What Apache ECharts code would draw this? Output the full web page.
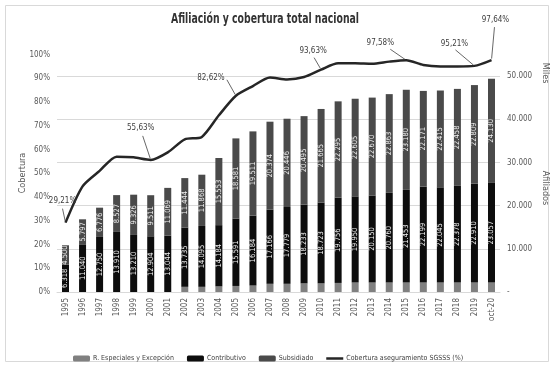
<!DOCTYPE html>
<html><head><meta charset="utf-8">
<script src="https://cdn.jsdelivr.net/npm/echarts@6/dist/echarts.min.js"></script>
<style>html,body{margin:0;padding:0;background:#fff}#c{width:553px;height:366px}</style>
</head><body><div id="c"></div>
<script>
const categories = ['1995','1996','1997','1998','1999','2000','2001','2002','2003','2004','2005','2006','2007','2008','2009','2010','2011','2012','2013','2014','2015','2016','2017','2018','2019','oct-20'];
const especiales = [0,0,0,0,0,0,0,1200,1200,1300,1400,1500,1900,1900,2000,2000,2100,2200,2200,2200,2200,2200,2200,2200,2200,2200];
const contributivo = [6318,11040,12750,13910,13210,12904,13044,13735,14095,14184,15591,16184,17166,17779,18233,18723,19756,19950,20150,20760,21453,22199,22045,22378,22910,23057];
const subsidiado = [4500,5797,6776,8527,9326,9511,11069,11444,11868,15553,18581,19511,20374,20446,20495,21665,22295,22605,22670,22863,23180,22171,22415,22458,22809,24130];
const cobertura = [29.21,44.5,51,57,56.7,55.63,58.8,64.3,65.3,74.4,82.62,86.7,90.3,89.5,90.5,93.63,96.3,96.3,96.1,97,97.58,95.6,95,95,95.21,97.64];
const labeledPoints = [0,5,10,15,20,24,25];
const labelOffsets = {0:[-3,-17],5:[-10,-28],10:[-25,-14],15:[-8,-14],20:[-26,-13],24:[-20,-18],25:[4,-36]};
const leaderStart = {0:[-3,-14],5:[-8,-24],10:[-9,-16],15:[-7,-12],20:[-16,-11],24:[-19,-16],25:[3,-33]};

const FONT = "'Liberation Sans Narrow','DejaVu Sans Condensed',Lato,sans-serif";
function thousands(v){ const s=String(Math.round(v)); return s.replace(/\B(?=(\d{3})+(?!\d))/g,'.'); }
function pct(v){ return v.toFixed(2).replace('.',',')+'%'; }

const chart = echarts.init(document.getElementById('c'), null, {renderer:'canvas'});
const barLabel = {show:true, position:'inside', rotate:90, color:'#f2f2f2', fontSize:7.5, fontFamily:FONT, formatter:p=>thousands(p.value)};
const gridColors = ['rgba(0,0,0,0)','#d9d9d9','#d9d9d9','#d9d9d9','#d9d9d9','#d9d9d9','rgba(0,0,0,0)'];

const baseGraphic = [
  {type:'rect', shape:{x:5.5,y:5.5,width:543,height:356}, style:{fill:'none', stroke:'#d9d9d9', lineWidth:1}, silent:true, z:-10},
  {type:'text', x:265, y:19, scaleX:0.74, style:{text:'Afiliación y cobertura total nacional', fontSize:14, fontWeight:'bold', fill:'#333', fontFamily:FONT, align:'center', verticalAlign:'middle'}},
  {type:'text', x:23, y:173, rotation:Math.PI/2, style:{text:'Cobertura', fontSize:9, fill:'#595959', fontFamily:FONT, align:'center', verticalAlign:'middle'}},
  {type:'text', x:545, y:73, rotation:-Math.PI/2, style:{text:'Miles', fontSize:9, fill:'#595959', fontFamily:FONT, align:'center', verticalAlign:'middle'}},
  {type:'text', x:545, y:188, rotation:-Math.PI/2, style:{text:'Afiliados', fontSize:9, fill:'#595959', fontFamily:FONT, align:'center', verticalAlign:'middle'}}
];

chart.setOption({
  animation:false,
  backgroundColor:'#fff',
  textStyle:{fontFamily:FONT},
  grid:{left:57, right:53, top:54.5, bottom:74},
  legend:{left:68, top:350, itemWidth:17, itemHeight:6, itemGap:13, textStyle:{fontSize:7, color:'#404040', fontFamily:FONT, padding:[0,0,0,-2]},
    data:['R. Especiales y Excepción','Contributivo','Subsidiado',{name:'Cobertura aseguramiento SGSSS (%)', icon:'path://M0,0L17,0L17,2.5L0,2.5Z'}]},
  xAxis:{type:'category', data:categories, axisTick:{show:false}, axisLine:{lineStyle:{color:'#d9d9d9'}},
    axisLabel:{rotate:90, fontSize:8, color:'#595959', margin:6, interval:0, fontFamily:FONT}},
  yAxis:[
    {type:'value', min:0, max:100, interval:10, splitLine:{show:false}, axisLine:{show:false}, axisTick:{show:false},
      axisLabel:{formatter:v=>v+'%', fontSize:8, color:'#595959', margin:7, fontFamily:FONT}},
    {type:'value', min:0, max:55000, interval:10000, position:'right', axisLine:{show:false}, axisTick:{show:false},
      splitLine:{show:true, lineStyle:{color:gridColors, width:1}},
      axisLabel:{showMaxLabel:false, formatter:v=>v===0?'-':thousands(v), fontSize:8, color:'#595959', margin:7, align:'left', fontFamily:FONT}}
  ],
  graphic:baseGraphic,
  series:[
    {name:'R. Especiales y Excepción', type:'bar', stack:'a', yAxisIndex:1, barWidth:7, data:especiales, itemStyle:{color:'#808080'}},
    {name:'Contributivo', type:'bar', stack:'a', yAxisIndex:1, barWidth:7, data:contributivo, itemStyle:{color:'#0d0d0d'}, label:barLabel},
    {name:'Subsidiado', type:'bar', stack:'a', yAxisIndex:1, barWidth:7, data:subsidiado, itemStyle:{color:'#4a4a4a'}, label:barLabel},
    {name:'Cobertura aseguramiento SGSSS (%)', type:'line', yAxisIndex:0, smooth:0.25, symbol:'circle', symbolSize:0.5, showSymbol:true, z:5,
      lineStyle:{color:'#262626', width:2.5}, itemStyle:{color:'#262626'},
      data:cobertura.map((v,i)=>labeledPoints.includes(i)?{value:v,label:{show:true}}:v),
      label:{show:false, position:'top', distance:0, fontSize:8, color:'#404040', fontFamily:FONT, formatter:p=>pct(p.value)},
      labelLayout:function(p){ const o=labelOffsets[p.dataIndex]; return o?{dx:o[0], dy:o[1]}:{}; }
    }
  ]
});

// leader lines from each label to its point, positioned through the chart's own scales
const leaders = labeledPoints.map(i=>{
  const pt = chart.convertToPixel({xAxisIndex:0, yAxisIndex:0}, [categories[i], cobertura[i]]);
  const s = leaderStart[i];
  const sx = pt[0]+s[0], sy = pt[1]+s[1];
  const dx = pt[0]-sx, dy = pt[1]-sy, len = Math.hypot(dx,dy);
  const ex = pt[0]-dx/len*1.5, ey = pt[1]-dy/len*1.5;
  return {type:'line', shape:{x1:sx,y1:sy,x2:ex,y2:ey}, style:{stroke:'#404040', lineWidth:0.8}, silent:true, z:10};
});
chart.setOption({graphic: baseGraphic.concat(leaders)});
</script></body></html>
